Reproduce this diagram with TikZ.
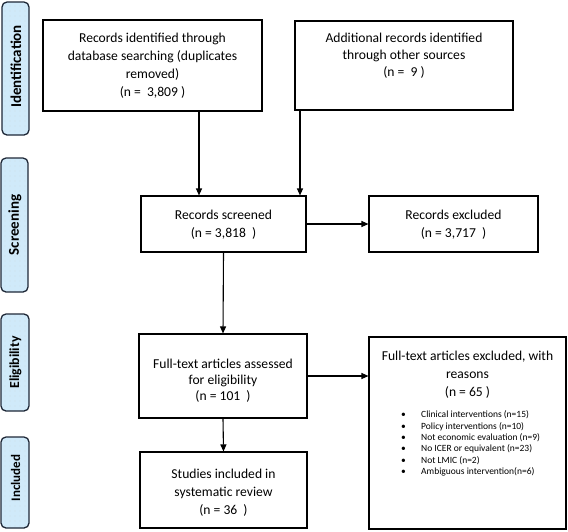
\documentclass[tikz,border=0pt]{standalone}
\usepackage{fontspec}
\setmainfont{Carlito}
\usetikzlibrary{arrows.meta,patterns.meta,calc}
\definecolor{sidefill}{RGB}{208,234,250}
\definecolor{sideedge}{RGB}{30,40,55}
\newcommand{\blt}{\makebox[20pt][l]{•}}
\begin{document}
\begin{tikzpicture}[x=1pt,y=1pt,
  box/.style={draw=black,line width=1.1pt,rectangle,inner sep=0pt},
  txt/.style={align=center,font=\fontsize{13.6}{18}\selectfont,inner sep=0pt},
  side/.style={draw=sideedge,line width=1.3pt,rounded corners=5pt,
    preaction={fill=sidefill},pattern={Dots[radius=0.35pt,distance=5pt]},pattern color=gray!45},
  sidetxt/.style={rotate=90,inner sep=0pt},
  arr/.style={line width=1.1pt,-{Triangle[length=7pt,width=6pt]}},
  small/.style={font=\fontsize{9.5}{11.4}\selectfont,inner sep=0pt,align=left}
]
\useasboundingbox (0,0) rectangle (568,-531);
% side labels
\path[side] (2,-2) rectangle (29,-135);
\node[sidetxt,font=\fontsize{15}{15}\selectfont\bfseries] (sid) at (16,-66.5) {Identification};
\path[side] (1,-158) rectangle (28,-292);
\node[sidetxt,font=\fontsize{15}{15}\selectfont\bfseries] (ssc) at (15,-225) {Screening};
\path[side] (1,-314) rectangle (29,-411);
\node[sidetxt,font=\fontsize{13.8}{14}\selectfont\bfseries] (sel) at (15.5,-362.5) {Eligibility};
\path[side] (1,-437) rectangle (29,-528);
\node[sidetxt,font=\fontsize{13}{14}\selectfont\bfseries] (sin) at (15.5,-478) {Included};
% boxes
\node[box,minimum width=219pt,minimum height=91pt] (b1) at (152.5,-65.5) {};
\node[txt] (b1t) at ([yshift=-0.5pt]b1.center) {Records identified through\\database searching (duplicates\\removed)\\(n =\ \ 3,809 )};
\node[box,minimum width=218pt,minimum height=89pt] (b2) at (404,-65.5) {};
\node[txt,anchor=north,font=\fontsize{13.6}{17}\selectfont] (b2t) at ([yshift=-12.3pt]b2.north) {Additional records identified\\through other sources\\(n =\ \ 9 )};
\node[box,minimum width=165pt,minimum height=56pt] (scr) at (223.5,-224) {};
\node[txt] (scrt) at ([yshift=-1pt]scr.center) {Records screened\\(n = 3,818\ \ )};
\node[box,minimum width=169pt,minimum height=56pt] (ex1) at (453.5,-224) {};
\node[txt] (ex1t) at ([yshift=-1pt]ex1.center) {Records excluded\\(n = 3,717\ \ )};
\node[box,minimum width=168pt,minimum height=84pt] (ass) at (223,-376) {};
\node[txt,font=\fontsize{13.6}{16}\selectfont] (asst) at ([yshift=-5pt]ass.center) {Full-text articles assessed\\for eligibility\\(n = 101\ \ )};
\node[box,minimum width=197pt,minimum height=192pt] (ex2) at (467.5,-433) {};
\node[txt,anchor=north] (ex2t) at ([yshift=-14pt]ex2.north) {Full-text articles excluded, with\\reasons\\(n = 65 )};
\node[small,anchor=north west] (ex2l) at (401,-410.5) {%
\blt Clinical interventions (n=15)\\
\blt Policy interventions (n=10)\\
\blt Not economic evaluation (n=9)\\
\blt No ICER or equivalent (n=23)\\
\blt Not LMIC (n=2)\\
\blt Ambiguous intervention(n=6)};
\node[box,minimum width=167pt,minimum height=76pt] (stu) at (223.5,-490) {};
\node[txt] (stut) at ([yshift=-3pt]stu.center) {Studies included in\\systematic review\\(n = 36\ \ )};
% connectors
\draw[arr] ([xshift=46.5pt]b1.south) -- ([xshift=46.5pt]b1.south |- scr.north);
\draw[arr] ([xshift=-104pt]b2.south) -- ([xshift=-104pt]b2.south |- scr.north);
\draw[arr] (scr.east) -- (ex1.west);
\draw[arr] (scr.south) -- (ass.north);
\draw[arr] (ass.east) -- (ass.east -| ex2.west);
\draw[arr] (ass.south) -- (stu.north);
\end{tikzpicture}
\end{document}
